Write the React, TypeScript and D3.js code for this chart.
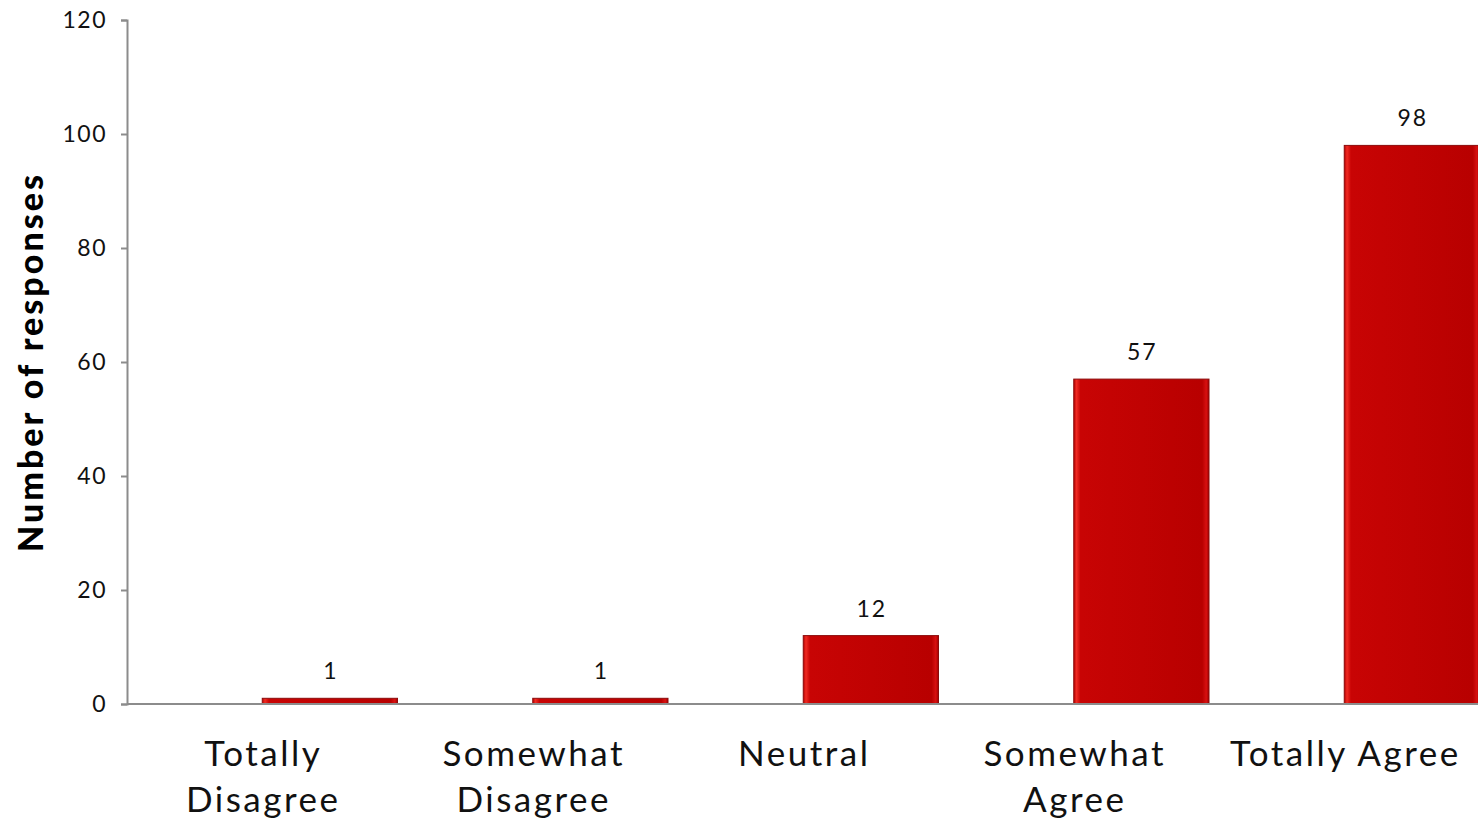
import React, { useEffect, useRef } from 'react';
import * as d3 from 'd3';

const categories = ['Totally Disagree', 'Somewhat Disagree', 'Neutral', 'Somewhat Agree', 'Totally Agree'];
const categoryLines = [['Totally', 'Disagree'], ['Somewhat', 'Disagree'], ['Neutral'], ['Somewhat', 'Agree'], ['Totally Agree']];
const responses = [1, 1, 12, 57, 98];
const yTicks = [0, 20, 40, 60, 80, 100, 120];

const FONT = 'Lato, "Open Sans", sans-serif';

const App: React.FC = () => {
  const ref = useRef<SVGSVGElement | null>(null);

  useEffect(() => {
    const width = 1478;
    const height = 820;
    const svg = d3.select(ref.current);
    svg.selectAll('*').remove();

    const x = d3.scaleBand<string>().domain(categories).range([127, 1479.5]).padding(0);
    const y = d3.scaleLinear().domain([0, 120]).range([704, 20]);

    // bar fill: glossy red with lighter left edge
    const defs = svg.append('defs');
    const grad = defs.append('linearGradient').attr('id', 'barGrad').attr('x1', '0').attr('x2', '1').attr('y1', '0').attr('y2', '0');
    grad.append('stop').attr('offset', '0%').attr('stop-color', '#b30000');
    grad.append('stop').attr('offset', '2%').attr('stop-color', '#f02a22');
    grad.append('stop').attr('offset', '5%').attr('stop-color', '#c80404');
    grad.append('stop').attr('offset', '50%').attr('stop-color', '#c00202');
    grad.append('stop').attr('offset', '95%').attr('stop-color', '#b80000');
    grad.append('stop').attr('offset', '98%').attr('stop-color', '#d81010');
    grad.append('stop').attr('offset', '100%').attr('stop-color', '#a00000');

    const bw = x.bandwidth() / 2;

    svg.append('g')
      .selectAll('rect')
      .data(responses)
      .join('rect')
      .attr('x', (_d, i) => x(categories[i])! + x.bandwidth() / 2)
      .attr('y', d => y(d))
      .attr('width', bw)
      .attr('height', d => y(0) - y(d))
      .attr('fill', 'url(#barGrad)')
      .attr('stroke', '#8c0a0a')
      .attr('stroke-width', 1);

    // value labels
    svg.append('g')
      .selectAll('text')
      .data(responses)
      .join('text')
      .attr('x', (_d, i) => x(categories[i])! + x.bandwidth() / 2 + bw / 2 + 1)
      .attr('y', d => y(d) - 19)
      .attr('text-anchor', 'middle')
      .attr('font-family', FONT)
      .attr('font-size', 23)
      .attr('letter-spacing', 2)
      .attr('fill', '#111')
      .text(d => d);

    // y axis
    const yAxis = svg.append('g')
      .attr('transform', 'translate(127,0)')
      .call(d3.axisLeft(y).tickValues(yTicks).tickSize(6).tickPadding(14));
    yAxis.selectAll('path,line').attr('stroke', '#8c8c8c').attr('stroke-width', 2);
    yAxis.selectAll('text').attr('font-family', FONT).attr('font-size', 23).attr('letter-spacing', 1.5).attr('fill', '#111');

    // x axis line
    svg.append('line')
      .attr('x1', 127).attr('x2', width)
      .attr('y1', y(0)).attr('y2', y(0))
      .attr('stroke', '#8c8c8c').attr('stroke-width', 2);

    // category labels
    const cat = svg.append('g');
    categoryLines.forEach((lines, i) => {
      const cx = x(categories[i])! + x.bandwidth() / 2 + 1;
      const t = cat.append('text')
        .attr('text-anchor', 'middle')
        .attr('font-family', FONT)
        .attr('font-size', 35)
        .attr('letter-spacing', 2.5)
        .attr('fill', '#111');
      lines.forEach((l, j) => {
        t.append('tspan').attr('x', cx).attr('y', 766 + j * 46).text(l);
      });
    });

    // y axis title
    svg.append('text')
      .attr('transform', `translate(43,${(y(0) + y(120)) / 2}) rotate(-90)`)
      .attr('text-anchor', 'middle')
      .attr('font-family', FONT)
      .attr('font-weight', 900)
      .attr('font-size', 34)
      .attr('letter-spacing', 3)
      .attr('fill', '#000')
      .text('Number of responses');

    svg.attr('width', width).attr('height', height);
  }, []);

  return <svg ref={ref} style={{ position: 'absolute', left: 0, top: 0, background: '#fff' }} />;
};

export default App;
